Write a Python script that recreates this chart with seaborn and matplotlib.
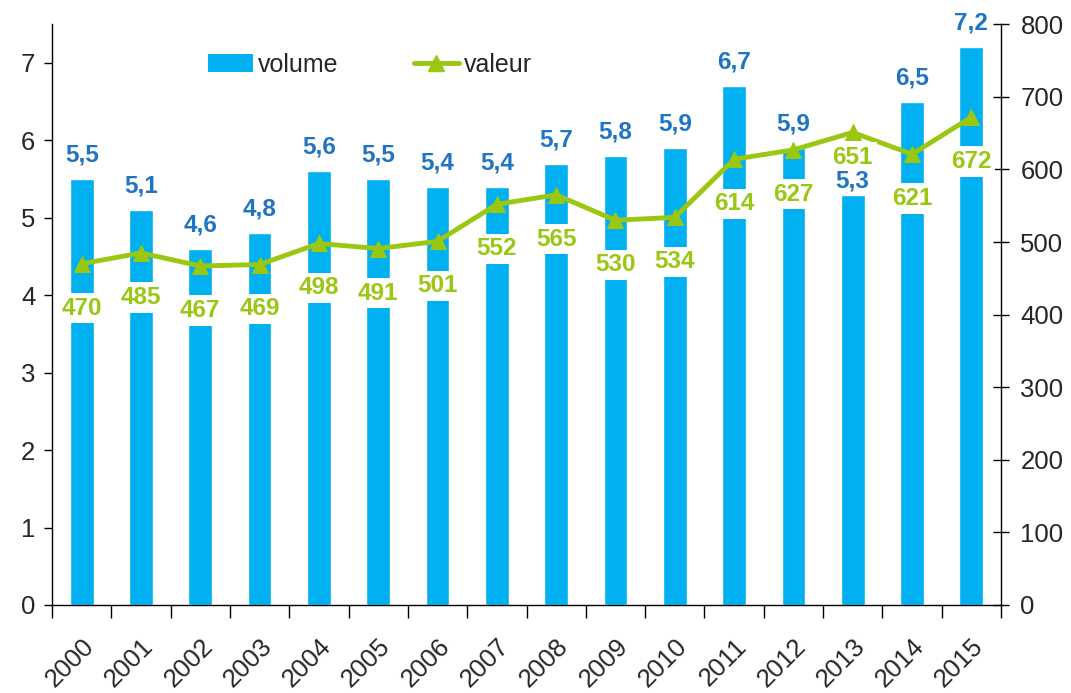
import matplotlib
matplotlib.use("Agg")
import matplotlib.pyplot as plt
import seaborn as sns
import pandas as pd
import numpy as np
from matplotlib.lines import Line2D
from matplotlib.patches import Patch

# ---- data ----
years = [str(y) for y in range(2000, 2016)]
volume = [5.5, 5.1, 4.6, 4.8, 5.6, 5.5, 5.4, 5.4, 5.7, 5.8, 5.9, 6.7, 5.9, 5.3, 6.5, 7.2]
valeur = [470, 485, 467, 469, 498, 491, 501, 552, 565, 530, 534, 614, 627, 651, 621, 672]
left_ticks = list(range(0, 8))
right_ticks = list(range(0, 801, 100))

BLUE = "#00B0F0"
BLUE_TXT = "#1F74C4"
GREEN = "#99C712"
LBL_FS = 17.5
TICK_FS = 18.5

sns.set_theme(style="white")
plt.rcParams['font.family'] = ['Liberation Sans', 'DejaVu Sans']

df = pd.DataFrame({"annee": years, "volume": volume, "valeur": valeur,
                   "pos": np.arange(len(years))})

DPI = 100
fig = plt.figure(figsize=(10.71, 6.93), dpi=DPI)
ax = fig.add_axes([0.0486, 0.127, 0.886, 0.838])

sns.barplot(data=df, x="annee", y="volume", color=BLUE, width=0.4,
            saturation=1, ax=ax, zorder=2)
ax.set_xlim(-0.5, len(years) - 0.5)
ax.set_ylim(0, 7.5)
ax.set_yticks(left_ticks)
ax.set_xlabel("")
ax.set_ylabel("")

ax2 = ax.twinx()
sns.lineplot(data=df, x="pos", y="valeur", color=GREEN, lw=3.5, marker="^",
             markersize=12, markeredgecolor=GREEN, ax=ax2, zorder=3)
ax2.set_ylim(0, 800)
ax2.set_yticks(right_ticks)
ax2.set_xlim(-0.5, len(years) - 0.5)
ax2.set_xlabel("")
ax2.set_ylabel("")

# ---- data labels ----
pt = DPI / 72.0
BAR_OFF = 9             # points above bar
BAR_OFF_TIGHT = 1.5     # points above bar when squeezed
DEF_OFF = 32            # points below marker
BOX_PAD = 0.15
half_box = 0.6 * LBL_FS + BOX_PAD * LBL_FS   # points
txt_h = 0.75 * LBL_FS                         # points
for i, (vol, val) in enumerate(zip(volume, valeur)):
    my = ax2.transData.transform((i, val))[1] / pt
    by = ax.transData.transform((i, vol))[1] / pt
    c = my - DEF_OFF
    boff = BAR_OFF
    lab_lo, lab_hi = by + boff, by + boff + txt_h
    if c - half_box < lab_hi and c + half_box > lab_lo:
        boff = BAR_OFF_TIGHT
        lab_hi = by + boff + txt_h
        c = (lab_hi + (my - 6)) / 2
    ax2.annotate(f"{vol:.1f}".replace(".", ","), (i, vol), xycoords=ax.transData,
                 xytext=(0, boff), textcoords="offset points", ha="center",
                 va="bottom", fontsize=LBL_FS, fontweight="bold",
                 color=BLUE_TXT, zorder=6)
    ax2.annotate(str(val), (i, val), xytext=(0, c - my), textcoords="offset points",
                 ha="center", va="center", fontsize=LBL_FS, fontweight="bold",
                 color=GREEN, zorder=5,
                 bbox=dict(boxstyle=f"square,pad={BOX_PAD}", fc="white", ec="none"))

# x ticks: labels at centres, marks at boundaries
ax.set_xticks(np.arange(len(years)))
ax.set_xticklabels(years, rotation=45, ha="right", rotation_mode="anchor")
ax.set_xticks(np.arange(-0.5, len(years), 1), minor=True)
ax.tick_params(axis="x", which="major", length=0, labelsize=TICK_FS, pad=21)
ax.tick_params(axis="x", which="minor", length=9, width=1, color="black",
               direction="out", bottom=True)
ax.tick_params(axis="y", which="major", length=6, width=1, color="black",
               direction="out", labelsize=TICK_FS, pad=6, left=True)
ax2.tick_params(axis="y", which="major", length=12, width=1, color="black",
                direction="inout", labelsize=TICK_FS, pad=8, right=True)
ax2.tick_params(axis="x", bottom=False, labelbottom=False)

for a in (ax, ax2):
    a.spines["top"].set_visible(False)
    for s in ("left", "right", "bottom"):
        a.spines[s].set_color("black")
        a.spines[s].set_linewidth(1)
ax.spines["right"].set_visible(False)
ax2.spines["left"].set_visible(False)
ax2.spines["bottom"].set_visible(False)
ax.grid(False)
ax2.grid(False)

handles = [Patch(facecolor=BLUE, edgecolor="none", label="volume"),
           Line2D([0], [0], color=GREEN, lw=3.5, marker="^", markersize=12,
                  label="valeur")]
leg = ax2.legend(handles=handles, loc="center", bbox_to_anchor=(0.335, 0.93),
                 ncol=2, frameon=False, fontsize=18, handlelength=1.8,
                 handletextpad=0.2, columnspacing=3.0)

fig.savefig("out.png", dpi=DPI)
